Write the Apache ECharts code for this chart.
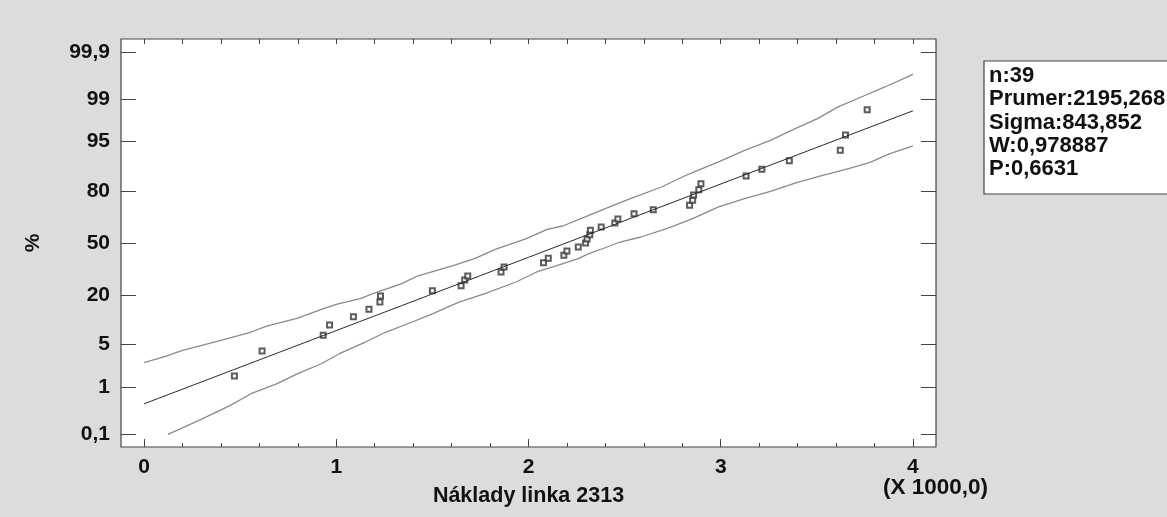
<!DOCTYPE html>
<html>
<head>
<meta charset="utf-8">
<script src="https://cdn.jsdelivr.net/npm/echarts@6/dist/echarts.min.js"></script>
<style>
  html, body { margin: 0; padding: 0; background: #dcdcdc; }
  #chart { width: 1167px; height: 517px; }
</style>
</head>
<body>
<div id="chart"></div>
<script>
// Costs of line 2313, in thousands
const costs = [0.470, 0.614, 0.932, 0.965, 1.089, 1.170, 1.227, 1.230, 1.500, 1.649,
  1.668, 1.684, 1.857, 1.873, 2.078, 2.103, 2.184, 2.200, 2.259, 2.297,
  2.305, 2.319, 2.322, 2.378, 2.449, 2.465, 2.549, 2.649, 2.838, 2.854,
  2.859, 2.886, 2.897, 3.132, 3.214, 3.357, 3.622, 3.649, 3.762];
// Cumulative percentage of each ordered observation
const cumPercent = [1.57, 4.02, 6.76, 9.23, 11.66, 14.16, 16.98, 19.54, 22.04, 24.51,
  27.46, 29.67, 31.95, 34.90, 37.52, 40.21, 42.07, 44.87, 47.41, 50.00,
  52.59, 55.37, 58.12, 60.22, 62.70, 65.10, 68.26, 70.51, 72.91, 75.49,
  78.14, 80.59, 83.15, 86.08, 88.34, 90.86, 93.31, 95.98, 98.45];

// Confidence band limits, x in thousands, y as normal score
const upperBandX = [0.000, 0.111, 0.200, 0.395, 0.557, 0.638, 0.800, 0.922, 1.000, 1.124,
  1.205, 1.341, 1.422, 1.611, 1.719, 1.827, 1.989, 2.097, 2.178, 2.314,
  2.422, 2.530, 2.692, 2.800, 2.881, 2.989, 3.124, 3.259, 3.368, 3.503,
  3.611, 3.719, 3.854, 4.000];
const upperBandZ = [-1.936, -1.834, -1.737, -1.580, -1.440, -1.343, -1.214, -1.073, -0.992, -0.901,
  -0.804, -0.658, -0.534, -0.361, -0.254, -0.102, 0.070, 0.221, 0.275, 0.448,
  0.583, 0.717, 0.906, 1.068, 1.176, 1.311, 1.499, 1.661, 1.823, 2.012,
  2.201, 2.346, 2.524, 2.729];
const lowerBandX = [0.124, 0.286, 0.449, 0.557, 0.692, 0.800, 0.922, 1.016, 1.151, 1.259,
  1.395, 1.503, 1.638, 1.773, 1.935, 2.043, 2.151, 2.259, 2.314, 2.395,
  2.476, 2.584, 2.719, 2.854, 2.989, 3.124, 3.259, 3.395, 3.530, 3.665,
  3.773, 3.881, 4.000];
const lowerBandZ = [-3.096, -2.869, -2.627, -2.438, -2.276, -2.114, -1.953, -1.791, -1.602, -1.440,
  -1.278, -1.143, -0.955, -0.820, -0.631, -0.469, -0.361, -0.254, -0.173, -0.081,
  0.016, 0.097, 0.232, 0.394, 0.583, 0.717, 0.836, 0.976, 1.095, 1.203,
  1.300, 1.446, 1.570];

// Summary statistics
const sampleSize = 39;
const meanValue = 2195.268;
const sigmaValue = 843.852;
const wStat = '0,978887';
const pValue = '0,6631';

// Axis ticks
const percentTicks = [0.1, 1, 5, 20, 50, 80, 95, 99, 99.9];
const xMajorTicks = [0, 1, 2, 3, 4];
const xFitRange = [0, 4];

// Inverse standard normal CDF (Acklam)
function probit(p) {
  const a = [-3.969683028665376e+01, 2.209460984245205e+02, -2.759285104469687e+02,
    1.383577518672690e+02, -3.066479806614716e+01, 2.506628277459239e+00];
  const b = [-5.447609879822406e+01, 1.615858368580409e+02, -1.556989798598866e+02,
    6.680131188771972e+01, -1.328068155288572e+01];
  const c = [-7.784894002430293e-03, -3.223964580411365e-01, -2.400758277161838e+00,
    -2.549732539343734e+00, 4.374664141464968e+00, 2.938163982698783e+00];
  const d = [7.784695709041462e-03, 3.224671290700398e-01, 2.445134137142996e+00,
    3.754408661907416e+00];
  const pl = 0.02425, ph = 1 - pl;
  let q, r;
  if (p < pl) {
    q = Math.sqrt(-2 * Math.log(p));
    return (((((c[0]*q+c[1])*q+c[2])*q+c[3])*q+c[4])*q+c[5]) / ((((d[0]*q+d[1])*q+d[2])*q+d[3])*q+1);
  }
  if (p <= ph) {
    q = p - 0.5; r = q * q;
    return (((((a[0]*r+a[1])*r+a[2])*r+a[3])*r+a[4])*r+a[5])*q / (((((b[0]*r+b[1])*r+b[2])*r+b[3])*r+b[4])*r+1);
  }
  q = Math.sqrt(-2 * Math.log(1 - p));
  return -(((((c[0]*q+c[1])*q+c[2])*q+c[3])*q+c[4])*q+c[5]) / ((((d[0]*q+d[1])*q+d[2])*q+d[3])*q+1);
}

const tickZ = percentTicks.map(p => probit(p / 100));
function percentLabel(z) {
  let best = 0;
  tickZ.forEach((t, i) => { if (Math.abs(t - z) < Math.abs(tickZ[best] - z)) best = i; });
  return String(percentTicks[best]).replace('.', ',');
}

const xAllTicks = [];
for (let i = 0; i <= 20; i++) xAllTicks.push(+(i * 0.2).toFixed(1));
const xMinorTicks = xAllTicks.filter(v => xMajorTicks.indexOf(v) < 0);

const pointData = costs.map((x, i) => [x, probit(cumPercent[i] / 100)]);
const upperData = upperBandX.map((x, i) => [x, upperBandZ[i]]);
const lowerData = lowerBandX.map((x, i) => [x, lowerBandZ[i]]);
const fitData = xFitRange.map(x => [x, (x * 1000 - meanValue) / sigmaValue]);

const FONT = '"Liberation Sans", Arial, sans-serif';
const TICK_COLOR = '#444';
const noLine = { show: false, onZero: false };

const chart = echarts.init(document.getElementById('chart'), null, { renderer: 'canvas' });
chart.setOption({
  animation: false,
  backgroundColor: '#dcdcdc',
  grid: {
    left: 121, top: 39, width: 815, height: 408,
    show: true, backgroundColor: '#ffffff', borderColor: '#444', borderWidth: 1.2
  },
  xAxis: [
    {
      type: 'value', position: 'bottom', min: -0.12, max: 4.12,
      axisLine: noLine, splitLine: { show: false },
      axisTick: { inside: true, length: 8, customValues: xMajorTicks, lineStyle: { color: TICK_COLOR } },
      axisLabel: { customValues: xMajorTicks, margin: 10, color: '#111', fontFamily: FONT, fontWeight: 'bold', fontSize: 21 },
      name: 'Náklady linka 2313', nameLocation: 'middle', nameGap: 38,
      nameTextStyle: { color: '#111', fontFamily: FONT, fontWeight: 'bold', fontSize: 21.5 }
    },
    {
      type: 'value', position: 'bottom', offset: 0, min: -0.12, max: 4.12,
      axisLine: noLine, splitLine: { show: false },
      axisTick: { inside: true, length: 4, customValues: xMinorTicks, lineStyle: { color: TICK_COLOR } },
      axisLabel: { show: false }
    },
    {
      type: 'value', position: 'top', min: -0.12, max: 4.12,
      axisLine: noLine, splitLine: { show: false },
      axisTick: { inside: true, length: 5, customValues: xAllTicks, lineStyle: { color: TICK_COLOR } },
      axisLabel: { show: false }
    }
  ],
  yAxis: [
    {
      type: 'value', position: 'left', min: -3.3, max: 3.3,
      axisLine: noLine, splitLine: { show: false },
      axisTick: { inside: true, length: 15, customValues: tickZ, lineStyle: { color: TICK_COLOR } },
      axisLabel: {
        customValues: tickZ, margin: 11, color: '#111', fontFamily: FONT, fontWeight: 'bold', fontSize: 21,
        formatter: v => percentLabel(v)
      }
    },
    {
      type: 'value', position: 'right', min: -3.3, max: 3.3,
      axisLine: noLine, splitLine: { show: false },
      axisTick: { inside: true, length: 15, customValues: tickZ, lineStyle: { color: TICK_COLOR } },
      axisLabel: { show: false }
    }
  ],
  series: [
    {
      type: 'line', data: upperData, symbol: 'none', silent: true,
      lineStyle: { color: '#8a8a8a', width: 1.3 }
    },
    {
      type: 'line', data: lowerData, symbol: 'none', silent: true,
      lineStyle: { color: '#8a8a8a', width: 1.3 }
    },
    {
      type: 'line', data: fitData, symbol: 'none', silent: true,
      lineStyle: { color: '#2a2a2a', width: 1 }
    },
    {
      type: 'scatter', data: pointData, symbol: 'emptyRect', symbolSize: 5,
      itemStyle: { color: '#333', borderColor: '#333', borderWidth: 1 }
    }
  ],
  graphic: [
    {
      type: 'text', x: 33, y: 243, rotation: Math.PI / 2,
      style: { text: '%', align: 'center', verticalAlign: 'middle',
        font: 'bold 21px ' + FONT, fill: '#111' }
    },
    {
      type: 'text', x: 883, y: 488,
      style: { text: '(X 1000,0)', align: 'left', verticalAlign: 'middle',
        font: 'bold 22.5px ' + FONT, fill: '#111' }
    },
    {
      type: 'rect', x: 984, y: 61,
      shape: { x: 0, y: 0, width: 200, height: 133 },
      style: { fill: '#ffffff', stroke: '#444', lineWidth: 1.2 }
    },
    {
      type: 'text', x: 989, y: 64,
      style: {
        text: ['n:' + sampleSize,
          'Prumer:' + String(meanValue).replace('.', ','),
          'Sigma:' + String(sigmaValue).replace('.', ','),
          'W:' + wStat,
          'P:' + pValue].join('\n'),
        font: 'bold 22px ' + FONT, lineHeight: 23.4, fill: '#111',
        align: 'left', verticalAlign: 'top'
      }
    }
  ]
});
</script>
</body>
</html>
